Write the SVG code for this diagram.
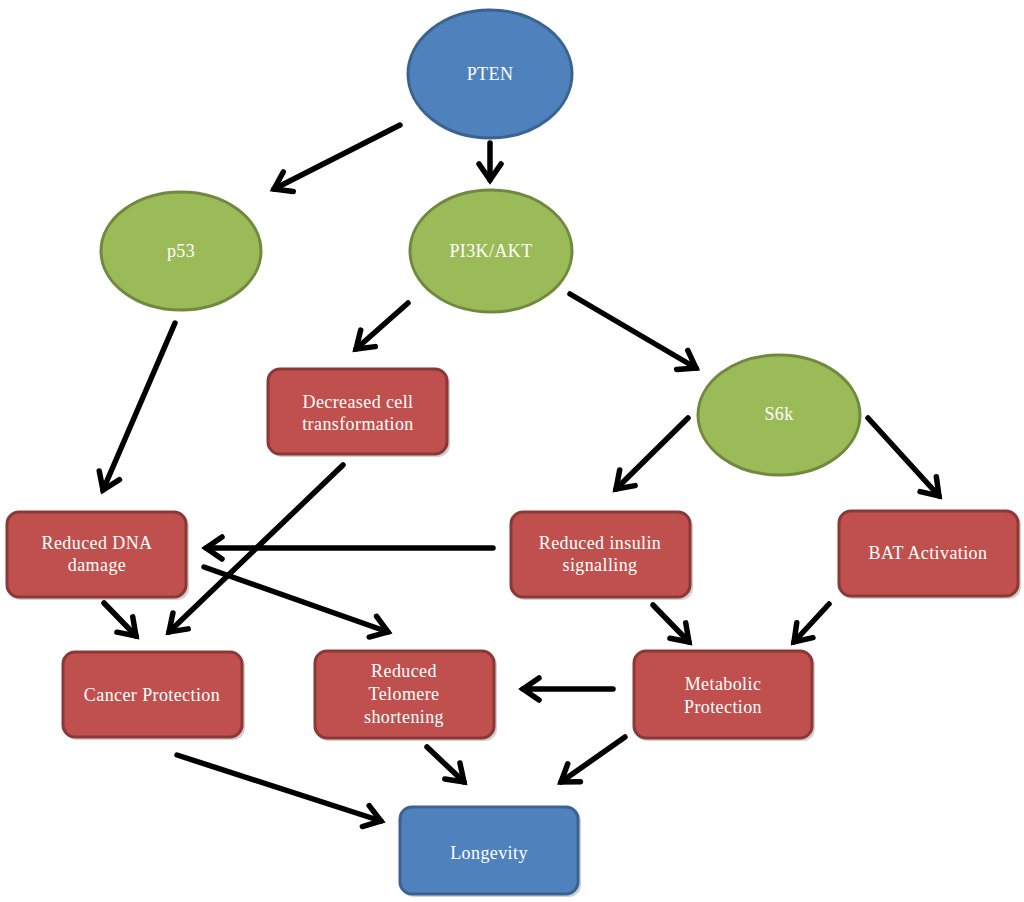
<svg xmlns="http://www.w3.org/2000/svg" width="1024" height="902" viewBox="0 0 1024 902">
<defs>
<style>
.blue{fill:#4F81BD;stroke:#3A6391;stroke-width:3}
.green{fill:#9BBB59;stroke:#71893F;stroke-width:3}
.red{fill:#C0504D;stroke:#8C3836;stroke-width:3}
.shadow{fill:#000;opacity:0.18}
.t{font-family:"Liberation Serif","Times New Roman",serif;font-size:18px;fill:#FFFFFF;text-anchor:middle;letter-spacing:0.4px}
.c{stroke:#000;stroke-width:5.5;fill:none;stroke-linecap:round;marker-end:url(#ah)}
</style>
<marker id="ah" markerUnits="userSpaceOnUse" viewBox="-24 -16 30 32" markerWidth="30" markerHeight="32" refX="0" refY="0" orient="auto">
<path d="M-16,-11 L0,0 L-16,11" fill="none" stroke="#000" stroke-width="5.5" stroke-linejoin="miter" stroke-linecap="round"/>
</marker>
</defs>
<rect width="1024" height="902" fill="#FFFFFF"/>

<g id="connectors">
<line class="c" x1="400" y1="125" x2="274" y2="189"/>
<line class="c" x1="490" y1="143" x2="490" y2="180"/>
<line class="c" x1="408" y1="303" x2="356" y2="349"/>
<line class="c" x1="570" y1="294" x2="696" y2="368"/>
<line class="c" x1="175" y1="323" x2="103" y2="490"/>
<line class="c" x1="343" y1="465" x2="169" y2="632"/>
<line class="c" x1="688" y1="418" x2="616" y2="489"/>
<line class="c" x1="868" y1="418" x2="939" y2="496"/>
<line class="c" x1="493" y1="548" x2="206" y2="548"/>
<line class="c" x1="204" y1="567" x2="388" y2="632"/>
<line class="c" x1="104" y1="603" x2="136" y2="636"/>
<line class="c" x1="653" y1="605" x2="689" y2="642"/>
<line class="c" x1="829" y1="604" x2="794" y2="642"/>
<line class="c" x1="613" y1="689" x2="523" y2="689"/>
<line class="c" x1="177" y1="755" x2="381" y2="821"/>
<line class="c" x1="427" y1="747" x2="464" y2="782"/>
<line class="c" x1="625" y1="737" x2="561" y2="782"/>
</g>

<g id="node-pten">
<ellipse class="blue" cx="490" cy="74" rx="82" ry="64"/>
<text class="t" x="490" y="80">PTEN</text>
</g>
<g id="node-p53">
<ellipse class="green" cx="181" cy="251" rx="80" ry="59"/>
<text class="t" x="181" y="257">p53</text>
</g>
<g id="node-pi3k">
<ellipse class="green" cx="491" cy="251" rx="81" ry="61"/>
<text class="t" x="491" y="257">PI3K/AKT</text>
</g>
<g id="node-s6k">
<ellipse class="green" cx="779" cy="415" rx="81" ry="60"/>
<text class="t" x="779" y="420">S6k</text>
</g>
<g id="node-decreased">
<rect class="shadow" x="270" y="371" width="180" height="86" rx="12"/>
<rect class="red" x="268" y="369" width="179" height="85" rx="12"/>
<text class="t" x="358" y="408">Decreased cell</text>
<text class="t" x="358" y="430">transformation</text>
</g>
<g id="node-dna">
<rect class="shadow" x="9" y="514" width="180" height="86" rx="12"/>
<rect class="red" x="7" y="512" width="179" height="85" rx="12"/>
<text class="t" x="97" y="549">Reduced DNA</text>
<text class="t" x="97" y="571">damage</text>
</g>
<g id="node-insulin">
<rect class="shadow" x="513" y="514" width="180" height="86" rx="12"/>
<rect class="red" x="511" y="512" width="179" height="85" rx="12"/>
<text class="t" x="600" y="549">Reduced insulin</text>
<text class="t" x="600" y="571">signalling</text>
</g>
<g id="node-bat">
<rect class="shadow" x="841" y="513" width="180" height="86" rx="12"/>
<rect class="red" x="839" y="511" width="179" height="85" rx="12"/>
<text class="t" x="928" y="559">BAT Activation</text>
</g>
<g id="node-cancer">
<rect class="shadow" x="65" y="654" width="180" height="86" rx="12"/>
<rect class="red" x="63" y="652" width="179" height="85" rx="12"/>
<text class="t" x="152" y="701">Cancer Protection</text>
</g>
<g id="node-telomere">
<rect class="shadow" x="317" y="653" width="180" height="88" rx="12"/>
<rect class="red" x="315" y="651" width="179" height="87" rx="12"/>
<text class="t" x="404" y="677">Reduced</text>
<text class="t" x="404" y="700">Telomere</text>
<text class="t" x="404" y="723">shortening</text>
</g>
<g id="node-metabolic">
<rect class="shadow" x="636" y="653" width="179" height="88" rx="12"/>
<rect class="red" x="634" y="651" width="178" height="87" rx="12"/>
<text class="t" x="723" y="690">Metabolic</text>
<text class="t" x="723" y="713">Protection</text>
</g>
<g id="node-longevity">
<rect class="shadow" x="402" y="809" width="179" height="88" rx="12"/>
<rect class="blue" x="400" y="807" width="178" height="87" rx="12"/>
<text class="t" x="489" y="859">Longevity</text>
</g>
</svg>
